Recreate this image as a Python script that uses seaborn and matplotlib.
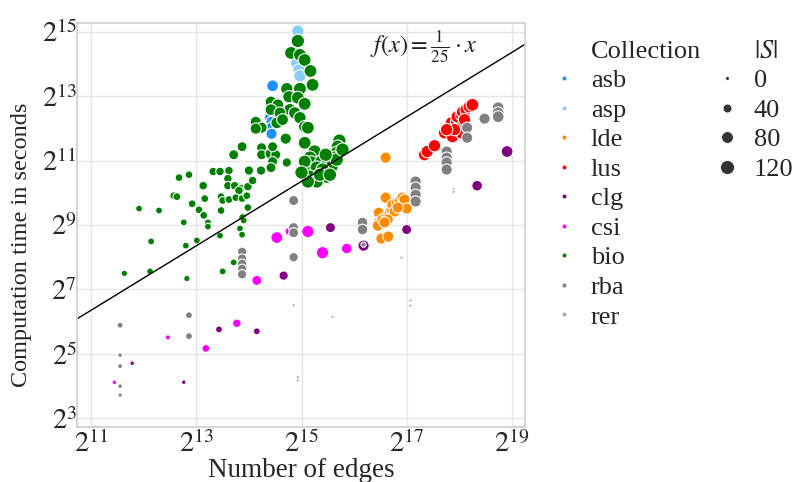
import numpy as np
import pandas as pd
import matplotlib
matplotlib.use("Agg")
import matplotlib.pyplot as plt
import matplotlib.ticker as mtick
from matplotlib.lines import Line2D
import seaborn as sns

# values: log2(edges), log2(seconds), |S|
asb_x = [14.45, 14.40, 14.40, 14.43, 14.43, 14.43]
asb_y = [13.32, 12.58, 12.33, 12.20, 12.02, 11.83]
asb_s = [100, 90, 90, 90, 90, 90]

asp_x = [14.93, 14.91, 14.89, 14.91, 14.95, 14.97]
asp_y = [15.02, 14.65, 14.43, 14.03, 13.81, 13.63]
asp_s = [110, 110, 110, 110, 110, 110]

lde_x = [16.60, 16.60, 16.47, 16.48, 16.45, 16.54, 16.62, 16.67, 16.71, 16.73, 16.81,
         16.86, 16.92, 16.96, 16.77, 16.64, 16.58, 17.00, 16.52, 16.65, 16.83]
lde_y = [11.09, 9.85, 9.38, 9.10, 8.98, 9.17, 9.26, 9.32, 9.48, 9.63, 9.69,
         9.72, 9.85, 9.79, 9.42, 9.17, 9.08, 9.51, 8.58, 8.64, 9.54]
lde_s = [90, 90, 90, 90, 90, 90, 90, 90, 90, 90, 90,
         90, 90, 90, 90, 90, 90, 90, 90, 90, 90]

lus_x = [17.34, 17.39, 17.53, 17.72, 17.81, 17.87, 17.85, 17.95, 18.00, 17.96,
         18.04, 18.06, 18.13, 18.19, 18.25, 18.04, 17.91, 18.10, 17.76]
lus_y = [11.18, 11.28, 11.46, 11.86, 11.96, 11.74, 12.17, 12.20, 12.05, 12.36,
         12.42, 12.51, 12.58, 12.67, 12.73, 11.86, 11.96, 12.27, 11.96]
lus_s = [110, 110, 110, 110, 110, 110, 110, 110, 110, 110,
         110, 110, 110, 110, 120, 110, 110, 110, 110]

clg_x = [18.91, 18.34, 15.55, 17.00, 16.18, 14.66, 13.43, 14.15, 11.78, 12.76]
clg_y = [11.28, 10.22, 8.92, 8.86, 8.36, 7.43, 5.76, 5.70, 4.71, 4.12]
clg_s = [100, 80, 70, 70, 90, 60, 30, 30, 10, 10]

csi_x = [14.53, 15.12, 14.76, 15.40, 15.86, 14.15, 13.77, 13.18, 12.46, 11.44]
csi_y = [8.61, 8.80, 8.80, 8.14, 8.27, 7.28, 5.95, 5.17, 5.51, 4.12]
csi_s = [100, 110, 40, 110, 80, 70, 50, 40, 15, 10]

bio_x = [14.93, 14.80, 14.97, 15.06, 15.17, 15.21, 14.72, 14.97, 14.76, 14.93,
         15.06, 14.42, 14.55, 14.42, 14.78, 14.87, 14.59, 14.97, 14.13, 14.24,
         14.13, 14.53, 14.64, 15.06, 15.12, 14.70, 15.06, 13.87, 14.24, 13.71,
         14.24, 14.40, 14.51, 14.45, 14.45, 14.42, 14.72,
         15.25, 15.72, 15.69, 15.67, 15.63, 15.16, 15.19, 15.38, 15.50, 15.57,
         15.16, 15.29, 15.40, 15.48, 15.16, 15.29, 15.12, 15.06, 15.00, 15.67,
         15.35, 15.54, 15.78, 15.46,
         12.67, 12.86, 13.32, 13.45, 13.62, 14.00, 14.23, 13.13, 13.60, 13.60,
         13.73, 13.85, 13.98, 14.07, 13.81, 12.57, 12.63, 12.92, 13.16, 13.47,
         13.50, 13.62, 13.75, 13.87, 13.96, 13.05, 13.47, 13.98, 13.14, 13.88,
         11.91, 12.29, 12.76, 13.22, 13.22, 13.90, 13.83, 13.87, 13.45, 12.14,
         12.80, 13.01, 13.71, 13.50, 12.12, 11.63, 12.82]
bio_y = [14.71, 14.34, 14.28, 14.12, 13.78, 13.35, 13.23, 13.23, 12.98, 12.95,
         12.76, 12.82, 12.73, 12.58, 12.58, 12.48, 12.48, 12.33, 12.20, 12.02,
         11.99, 12.17, 12.27, 12.05, 12.02, 11.68, 11.55, 11.43, 11.40, 11.18,
         11.18, 11.21, 11.18, 11.43, 10.97, 10.78, 10.94,
         11.28, 11.62, 11.43, 11.24, 11.09, 11.09, 10.94, 10.97, 10.94, 10.81,
         10.72, 10.78, 10.72, 10.50, 10.50, 10.35, 10.35, 10.97, 10.63, 11.03,
         10.56, 10.56, 11.34, 11.18,
         10.47, 10.56, 10.66, 10.66, 10.69, 10.69, 10.69, 10.22, 10.44, 10.22,
         10.22, 10.13, 10.19, 10.38, 10.07, 9.91, 9.88, 9.66, 9.82, 9.88,
         9.76, 9.79, 9.85, 9.82, 9.91, 9.47, 9.45, 9.54, 9.30, 9.23,
         9.51, 9.45, 9.08, 9.08, 8.95, 9.14, 8.89, 8.70, 8.67, 8.49,
         8.36, 8.52, 7.84, 7.56, 7.56, 7.50, 7.34]
bio_s = [130, 120, 120, 120, 120, 120, 110, 120, 110, 120,
         120, 100, 100, 100, 110, 110, 100, 110, 90, 90,
         90, 100, 100, 110, 120, 90, 120, 70, 70, 70,
         70, 70, 70, 70, 70, 70, 60,
         130, 130, 130, 130, 130, 130, 130, 130, 130, 130,
         130, 130, 130, 130, 130, 130, 130, 120, 130, 130,
         130, 130, 130, 130,
         40, 40, 50, 50, 50, 60, 60, 50, 50, 50,
         50, 50, 50, 50, 50, 40, 40, 40, 40, 40,
         40, 40, 40, 40, 40, 40, 40, 40, 40, 40,
         30, 30, 30, 30, 30, 30, 30, 30, 30, 30,
         30, 30, 30, 30, 30, 25, 25]

rba_x = [17.76, 17.76, 17.76, 17.76, 18.15, 18.15, 18.48, 18.74, 18.74, 18.74,
         17.17, 17.17, 17.17, 17.17, 16.16, 16.16, 16.18, 13.87, 13.87, 13.87,
         13.87, 13.87, 14.85, 14.85, 14.85, 14.85, 12.86, 12.86, 11.55, 11.55,
         11.55, 11.55, 11.55]
rba_y = [11.28, 11.09, 10.94, 10.72, 12.02, 11.71, 12.30, 12.64, 12.48, 12.36,
         10.35, 10.16, 9.94, 9.73, 9.08, 8.86, 8.39, 8.17, 7.96, 7.80,
         7.64, 7.47, 9.76, 8.92, 8.76, 8.00, 6.20, 5.55, 5.89, 4.96,
         4.62, 4.00, 3.72]
rba_s = [90, 90, 90, 90, 90, 90, 90, 100, 100, 100,
         90, 90, 90, 90, 80, 80, 15, 60, 60, 60,
         60, 60, 70, 70, 70, 60, 30, 30, 20, 10,
         12, 10, 8]

rer_x = [17.89, 17.89, 16.90, 17.07, 17.07, 15.59, 14.93, 14.93, 14.85]
rer_y = [10.12, 10.03, 7.99, 6.66, 6.50, 6.14, 4.28, 4.18, 6.51]
rer_s = [2, 2, 2, 2, 2, 2, 2, 2, 2]

order = ["asb", "asp", "lde", "lus", "clg", "csi", "bio", "rba", "rer"]
palette = {"asb": "#1E90FF", "asp": "#87CEFA", "lde": "#FF8C00", "lus": "#FF0000",
           "clg": "#800080", "csi": "#FF00FF", "bio": "#008000", "rba": "#808080",
           "rer": "#A9A9A9"}
size_ticks = [0, 40, 80, 120]

series = {"asb": (asb_x, asb_y, asb_s), "asp": (asp_x, asp_y, asp_s),
          "lde": (lde_x, lde_y, lde_s), "lus": (lus_x, lus_y, lus_s),
          "clg": (clg_x, clg_y, clg_s), "csi": (csi_x, csi_y, csi_s),
          "bio": (bio_x, bio_y, bio_s), "rba": (rba_x, rba_y, rba_s),
          "rer": (rer_x, rer_y, rer_s)}
frames = []
for name in order:
    ex, ey, es = series[name]
    frames.append(pd.DataFrame({"edges": np.exp2(ex), "time": np.exp2(ey),
                                "S": es, "Collection": name}))
df = pd.concat(frames, ignore_index=True)

sns.set_theme(style="whitegrid")
plt.rcParams["font.family"] = ["Liberation Serif", "DejaVu Serif"]
plt.rcParams["mathtext.fontset"] = "stix"
plt.rcParams["axes.edgecolor"] = "#d0d0d0"
plt.rcParams["grid.color"] = "#e6e6e6"

FS = 19.5
SIZES = (4, 100)
SNORM = (0, 140)

fig, ax = plt.subplots(figsize=(7.97, 4.82), dpi=100)
fig.subplots_adjust(left=0.0966, right=0.6587, bottom=0.1147, top=0.9517)

sns.scatterplot(data=df, x="edges", y="time", hue="Collection", hue_order=order,
                palette=palette, size="S", sizes=SIZES, size_norm=SNORM,
                edgecolor="white", linewidth=0.8, legend=False, ax=ax)

ax.set_xscale("log", base=2)
ax.set_yscale("log", base=2)
ax.set_xlim(2 ** 10.73, 2 ** 19.25)
ax.set_ylim(2 ** 2.74, 2 ** 15.26)

xs = np.array(ax.get_xlim())
ax.plot(xs, xs / 25, color="black", linewidth=1.0)
ax.set_xlim(xs)
ax.text(0.655, 0.94, r"$f(x) = \frac{1}{25} \cdot x$", transform=ax.transAxes,
        fontsize=17.5, va="center", ha="left", color="#222222")

fmt = mtick.FuncFormatter(lambda v, p: r"$2^{%d}$" % round(np.log2(v)))
ax.xaxis.set_major_locator(mtick.FixedLocator(2.0 ** np.arange(11, 20, 2)))
ax.yaxis.set_major_locator(mtick.FixedLocator(2.0 ** np.arange(3, 16, 2)))
ax.xaxis.set_minor_locator(mtick.NullLocator())
ax.yaxis.set_minor_locator(mtick.NullLocator())
ax.xaxis.set_major_formatter(fmt)
ax.yaxis.set_major_formatter(fmt)
ax.tick_params(labelsize=20.5, length=0)
ax.tick_params(axis="x", pad=3)
ax.tick_params(axis="y", pad=0)
ax.set_xlabel("Number of edges", fontsize=FS)
ax.set_ylabel("Computation time in seconds", fontsize=17.5)
ax.xaxis.set_label_coords(0.5, -0.077)
ax.yaxis.set_label_coords(-0.1, 0.45)

# two-column legend: hue on the left, |S| on the right
blank = Line2D([], [], linestyle="none", marker="")
handles = [blank]
labels = ["Collection"]
for name in order:
    handles.append(Line2D([], [], linestyle="none", marker="o", markersize=3.2,
                          markerfacecolor=palette[name], markeredgecolor="white",
                          markeredgewidth=0.3))
    labels.append(name)
handles.append(blank)
labels.append(r"$|S|$")
for v in size_ticks:
    s = SIZES[0] + (SIZES[1] - SIZES[0]) * v / SNORM[1]
    handles.append(Line2D([], [], linestyle="none", marker="o", markersize=np.sqrt(s) + 0.8,
                          markerfacecolor="#333333", markeredgecolor="white",
                          markeredgewidth=0.6))
    labels.append(str(v))
while len(handles) < 20:
    handles.append(blank)
    labels.append("")
fig.legend(handles, labels, ncol=2, loc="upper left", bbox_to_anchor=(0.675, 0.946),
           frameon=False, fontsize=FS - 0.5, borderpad=0, labelspacing=0.23,
           handlelength=1.0, handletextpad=0.5, columnspacing=0.5)

plt.savefig("out.png", dpi=100)
plt.close()
